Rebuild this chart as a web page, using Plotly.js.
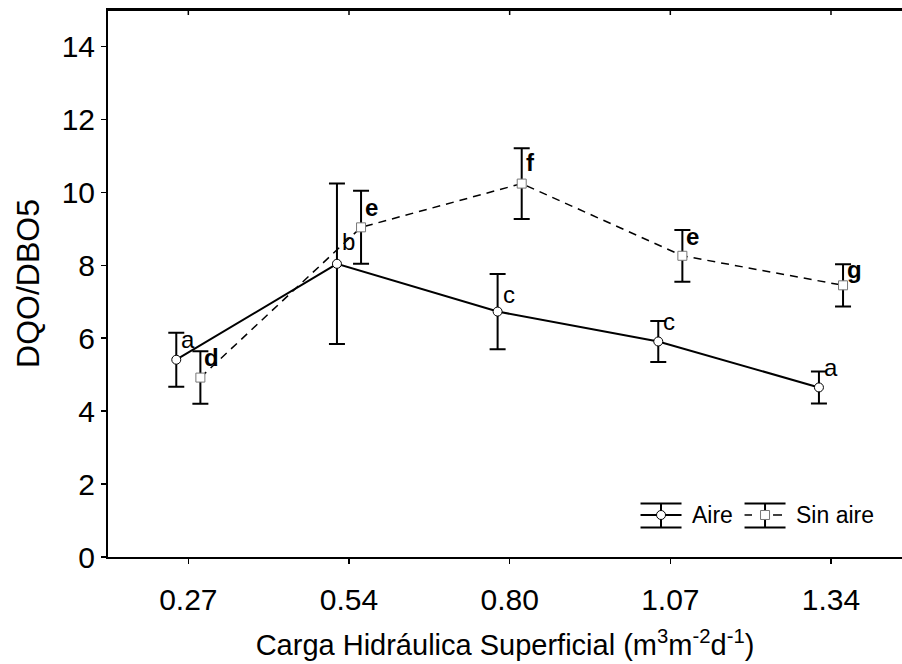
<!DOCTYPE html>
<html><head><meta charset="utf-8">
<script src="https://cdn.plot.ly/plotly-3.0.1.min.js"></script>
<style>body{margin:0;background:#fff}#chart{width:902px;height:664px}</style>
</head><body><div id="chart"></div>
<script>
const categories = ['0.27', '0.54', '0.80', '1.07', '1.34'];
const aireMean = [5.41, 8.04, 6.73, 5.91, 4.65];
const aireErr = [0.74, 2.20, 1.03, 0.56, 0.44];
const sinAireMean = [4.92, 9.04, 10.24, 8.26, 7.45];
const sinAireErr = [0.72, 1.00, 0.97, 0.71, 0.58];
const aireLetters = ['a', 'b', 'c', 'c', 'a'];
const sinAireLetters = ['d', 'e', 'f', 'e', 'g'];
const seriesNames = ['Aire', 'Sin aire'];
const yTicks = [0, 2, 4, 6, 8, 10, 12, 14];

const FONT = 'Liberation Sans, Arial, sans-serif';
// pixel offsets of letters below the upper error cap (style)
const aireLabelDrop = [7, 58, 20, 0, -4];
const sinLabelDrop = [6, 17, 14, 7, 5];
const catIndex = categories.map((c, i) => i);

const traces = [
  {
    type: 'scatter', mode: 'lines+markers', name: seriesNames[0],
    x: categories, y: aireMean,
    error_y: {type: 'data', array: aireErr, visible: true, color: '#000', thickness: 2, width: 8},
    line: {color: '#000', width: 2},
    marker: {symbol: 'circle', size: 9, color: '#fff', line: {color: '#000', width: 1}}
  },
  {
    type: 'scatter', mode: 'lines+markers', name: seriesNames[1],
    x: categories, y: sinAireMean,
    error_y: {type: 'data', array: sinAireErr, visible: true, color: '#000', thickness: 2, width: 8},
    line: {color: '#000', width: 1.5, dash: '8px,6px'},
    marker: {symbol: 'square', size: 9, color: '#fff', line: {color: '#777', width: 1}}
  }
];

const annotations = [];
const shapes = [];
// top frame line
shapes.push({type: 'line', xref: 'paper', yref: 'paper', x0: 0, x1: 1, y0: 1, y1: 1,
  line: {color: '#000', width: 2}, layer: 'above'});
catIndex.forEach(i => {
  annotations.push({
    x: i, y: aireMean[i] + aireErr[i], xref: 'x', yref: 'y',
    text: aireLetters[i], showarrow: false, xanchor: 'left', yanchor: 'middle',
    xshift: -9, yshift: -aireLabelDrop[i],
    font: {family: FONT, size: 24, color: '#000'}
  });
  annotations.push({
    x: i, y: sinAireMean[i] + sinAireErr[i], xref: 'x', yref: 'y',
    text: '<b>' + sinAireLetters[i] + '</b>', showarrow: false, xanchor: 'left', yanchor: 'middle',
    xshift: 14, yshift: -sinLabelDrop[i],
    font: {family: FONT, size: 24, color: '#000'}
  });
  // inward tick marks on the top frame line
  shapes.push({type: 'line', xref: 'x', yref: 'paper', ysizemode: 'pixel', yanchor: 1,
    x0: i, x1: i, y0: 0, y1: -5, line: {color: '#000', width: 1.5}, layer: 'above'});
});

// ---- custom legend with error-bar glyphs (paper coordinates) ----
const legendGlyphX = [0.6965, 0.8275];
const legendY = 0.0768;
function glyph(cx, dashed, square) {
  const base = {type: 'line', xref: 'paper', yref: 'paper', xsizemode: 'pixel', ysizemode: 'pixel',
                xanchor: cx, yanchor: legendY, line: {color: '#000', width: 2}};
  shapes.push(Object.assign({}, base, {x0: -20.5, x1: 20.5, y0: 11.5, y1: 11.5}));
  shapes.push(Object.assign({}, base, {x0: -20.5, x1: 20.5, y0: -12.5, y1: -12.5}));
  shapes.push(Object.assign({}, base, {x0: 0, x1: 0, y0: -12.5, y1: 11.5}));
  if (dashed) {
    shapes.push(Object.assign({}, base, {x0: -20.5, x1: -13, y0: 0, y1: 0, line: {color: '#000', width: 1.5}}));
    shapes.push(Object.assign({}, base, {x0: 8, x1: 17, y0: 0, y1: 0, line: {color: '#000', width: 1.5}}));
  } else {
    shapes.push(Object.assign({}, base, {x0: -20.5, x1: 20.5, y0: 0, y1: 0}));
  }
  if (square) {
    shapes.push(Object.assign({}, base, {type: 'rect', x0: -4.5, x1: 4.5, y0: -4.5, y1: 4.5,
      fillcolor: '#fff', line: {color: '#777', width: 1}}));
  } else {
    shapes.push(Object.assign({}, base, {type: 'circle', x0: -4.5, x1: 4.5, y0: -4.5, y1: 4.5,
      fillcolor: '#fff', line: {color: '#000', width: 1}}));
  }
}
glyph(legendGlyphX[0], false, false);
glyph(legendGlyphX[1], true, true);
seriesNames.forEach((n, k) => {
  annotations.push({
    x: legendGlyphX[k], y: legendY, xref: 'paper', yref: 'paper',
    text: n, showarrow: false, xanchor: 'left', yanchor: 'middle', xshift: 29,
    font: {family: FONT, size: 23, color: '#000'}
  });
});

const layout = {
  width: 902, height: 664,
  margin: {l: 108, r: 0, t: 10, b: 107},
  paper_bgcolor: '#fff', plot_bgcolor: '#fff',
  font: {family: FONT, color: '#000'},
  showlegend: false,
  scattermode: 'group', scattergap: 0.7,
  xaxis: {
    type: 'category', range: [-0.5, 4.442],
    showgrid: false, zeroline: false,
    showline: true, mirror: true, linecolor: '#000', linewidth: 2,
    ticks: 'outside', ticklen: 5, tickwidth: 1.5, tickcolor: '#000',
    ticklabelstandoff: 10,
    tickfont: {family: FONT, size: 30, color: '#000'},
    title: {text: 'Carga Hidráulica Superficial (m<sup>3</sup>m<sup>-2</sup>d<sup>-1</sup>)', font: {family: FONT, size: 29, color: '#000'}, standoff: 20}
  },
  yaxis: {
    range: [0, 15], tickvals: yTicks,
    showgrid: false, zeroline: false,
    showline: true, linecolor: '#000', linewidth: 2,
    ticks: 'outside', ticklen: 5, tickwidth: 1.5, tickcolor: '#000',
    tickfont: {family: FONT, size: 30, color: '#000'},
    title: {text: 'DQO/DBO5', font: {family: FONT, size: 32, color: '#000'}, standoff: 12}
  },
  shapes: shapes,
  annotations: annotations
};

Plotly.newPlot('chart', traces, layout, {displayModeBar: false, staticPlot: true});
</script>
</body></html>
